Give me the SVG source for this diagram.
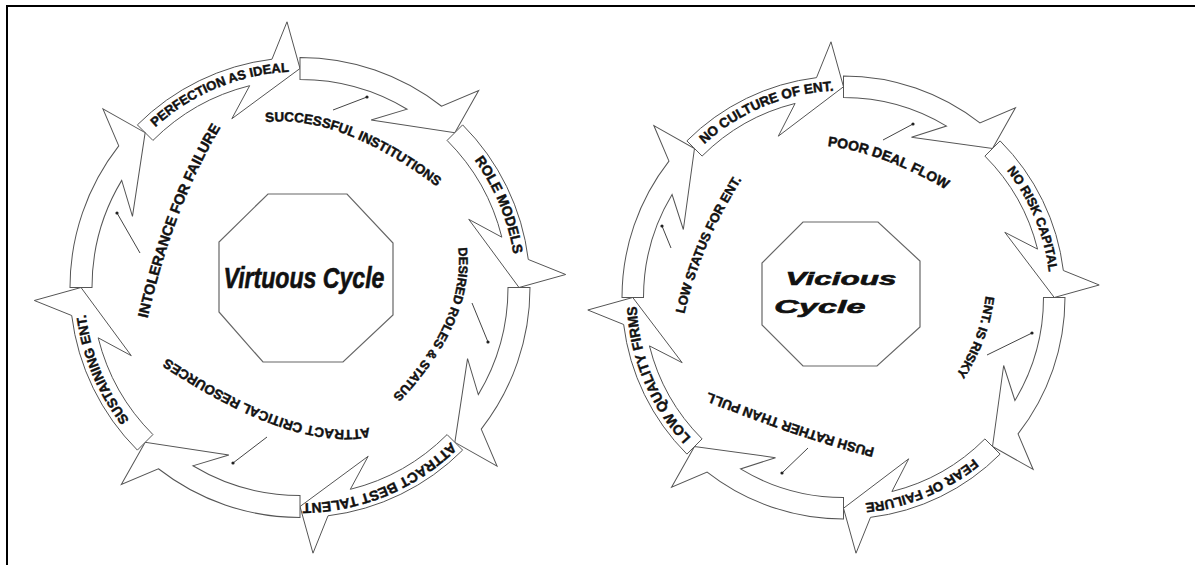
<svg xmlns="http://www.w3.org/2000/svg" width="1195" height="565" viewBox="0 0 1195 565">
<style>
.arr{fill:#fff;stroke:#555;stroke-width:1}
.oct{fill:#fff;stroke:#666;stroke-width:1.2}
.lbl{font-family:"Liberation Sans",Arial,sans-serif;font-weight:bold;fill:#111;stroke:#111;stroke-width:0.45}
.ctr{font-family:"Liberation Sans",Arial,sans-serif;font-weight:bold;font-style:italic;fill:#111;stroke:#111;stroke-width:0.6}
.lead{stroke:#444;stroke-width:1;fill:none}
.dot{fill:#222}
.frame{stroke:#000;stroke-width:2;fill:none}
</style>
<defs>
<path id="arrL" d="M162.63,-162.63 A230,230 0 0 1 228.29,-28.03 L265.68,-12.99 L219,0 L168.75,-68.18 L201.82,-50.32 A208,208 0 0 0 147.08,-147.08 Z"/>
<path id="arrR" d="M156.62,-156.62 A221.5,221.5 0 0 1 219.85,-26.99 L255.7,-12.51 L210.75,0 L161.33,-65.18 L194.06,-48.38 A200,200 0 0 0 141.42,-141.42 Z"/>
<path id="bandL" d="M-187.06,-108 A216,216 0 0 1 187.06,-108"/>
<path id="bandR" d="M-179.27,-103.5 A207,207 0 0 1 179.27,-103.5"/>
<path id="tL1" d="M246.5,124.4 L266.4,122.2 Q339.4,114.2 436.4,186.2 L452.5,198.1"/>
<path id="tL2" d="M455.3,225.4 L457.9,245.2 Q467.4,318.7 390.9,398.2 L377,412.6"/>
<path id="tL3" d="M389.1,423.8 L369.5,427.7 Q295,442.7 166.5,357.7 L149.8,346.7"/>
<path id="tL4" d="M142.6,339.1 L147.2,319.6 Q174.2,204.1 221.2,126.6 L231.6,109.5"/>
<path id="tR1" d="M808.5,143.8 L828.4,146.2 Q881.9,152.7 945.4,189.2 L962.7,199.2"/>
<path id="tR2" d="M988.2,275.5 L985.8,295.4 Q980.8,337.4 955.8,375.4 L944.8,392.1"/>
<path id="tR3" d="M892.8,452.6 L873.4,447.7 Q807.4,431.2 709.4,392.7 L690.8,385.4"/>
<path id="tR4" d="M679.5,334.3 L684.1,314.8 Q701.1,242.8 742.1,178.8 L752.9,162"/>
</defs>

<path class="frame" d="M7,565 V6 H1195"/>

<!-- Virtuous cycle -->
<g id="virtuous-center">
<polygon class="oct" points="268,194 347,194 393,243 393,315 343,362 263,362 219,312 219,242"/>
<text class="ctr" font-size="30" text-anchor="middle" transform="translate(304,288) scale(0.77,1)">Virtuous Cycle</text>
</g>
<g id="v-perfection">
<use href="#arrL" class="arr" transform="translate(300,287.5) rotate(-90)"/>
<text class="lbl" font-size="13" transform="translate(300,287.5) rotate(-22.5)"><textPath href="#bandL" startOffset="50%" text-anchor="middle">PERFECTION AS IDEAL</textPath></text>
</g>
<g id="v-arrow-institutions"><use href="#arrL" class="arr" transform="translate(300,287.5) rotate(-45)"/></g>
<g id="v-role-models">
<use href="#arrL" class="arr" transform="translate(300,287.5) rotate(0)"/>
<text class="lbl" font-size="14" transform="translate(300,287.5) rotate(67.5)"><textPath href="#bandL" startOffset="50%" text-anchor="middle">ROLE MODELS</textPath></text>
</g>
<g id="v-arrow-desired"><use href="#arrL" class="arr" transform="translate(300,287.5) rotate(45)"/></g>
<g id="v-best-talent">
<use href="#arrL" class="arr" transform="translate(300,287.5) rotate(90)"/>
<text class="lbl" font-size="14" transform="translate(300,287.5) rotate(157.5)"><textPath href="#bandL" startOffset="50%" text-anchor="middle">ATTRACT BEST TALENT</textPath></text>
</g>
<g id="v-arrow-resources"><use href="#arrL" class="arr" transform="translate(300,287.5) rotate(135)"/></g>
<g id="v-sustaining">
<use href="#arrL" class="arr" transform="translate(300,287.5) rotate(180)"/>
<text class="lbl" font-size="13.5" transform="translate(300,287.5) rotate(247.5)"><textPath href="#bandL" startOffset="50%" text-anchor="middle">SUSTAINING ENT.</textPath></text>
</g>
<g id="v-arrow-intolerance"><use href="#arrL" class="arr" transform="translate(300,287.5) rotate(225)"/></g>

<g id="v-lbl-institutions"><text class="lbl" font-size="13.4"><textPath href="#tL1" startOffset="50%" text-anchor="middle">SUCCESSFUL INSTITUTIONS</textPath></text></g>
<g id="v-lbl-desired"><text class="lbl" font-size="12.6"><textPath href="#tL2" startOffset="50%" text-anchor="middle">DESIRED ROLES &amp; STATUS</textPath></text></g>
<g id="v-lbl-resources"><text class="lbl" font-size="13.5"><textPath href="#tL3" startOffset="50%" text-anchor="middle">ATTRACT CRITICAL RESOURCES</textPath></text></g>
<g id="v-lbl-intolerance"><text class="lbl" font-size="14.5"><textPath href="#tL4" startOffset="50%" text-anchor="middle">INTOLERANCE FOR FAILURE</textPath></text></g>

<!-- Vicious cycle -->
<g id="vicious-center">
<polygon class="oct" points="803,222 878,222 920,261 920,327 877,366 803,366 762,325 762,263"/>
<text class="ctr" font-size="19" text-anchor="middle" fill="#222" transform="translate(841,285) scale(1.66,1)">Vicious</text>
<text class="ctr" font-size="19" text-anchor="middle" fill="#222" transform="translate(820,313) scale(1.8,1)">Cycle</text>
</g>
<g id="c-no-culture">
<use href="#arrR" class="arr" transform="translate(843.5,297.5) rotate(-90)"/>
<text class="lbl" font-size="13.5" transform="translate(843.5,297.5) rotate(-22.5)"><textPath href="#bandR" startOffset="50%" text-anchor="middle">NO CULTURE OF ENT.</textPath></text>
</g>
<g id="c-arrow-deal"><use href="#arrR" class="arr" transform="translate(843.5,297.5) rotate(-45)"/></g>
<g id="c-no-risk">
<use href="#arrR" class="arr" transform="translate(843.5,297.5) rotate(0)"/>
<text class="lbl" font-size="12.8" transform="translate(843.5,297.5) rotate(67.5)"><textPath href="#bandR" startOffset="50%" text-anchor="middle">NO RISK CAPITAL</textPath></text>
</g>
<g id="c-arrow-risky"><use href="#arrR" class="arr" transform="translate(843.5,297.5) rotate(45)"/></g>
<g id="c-fear">
<use href="#arrR" class="arr" transform="translate(843.5,297.5) rotate(90)"/>
<text class="lbl" font-size="13.3" transform="translate(843.5,297.5) rotate(157.5)"><textPath href="#bandR" startOffset="50%" text-anchor="middle">FEAR OF FAILURE</textPath></text>
</g>
<g id="c-arrow-push"><use href="#arrR" class="arr" transform="translate(843.5,297.5) rotate(135)"/></g>
<g id="c-low-quality">
<use href="#arrR" class="arr" transform="translate(843.5,297.5) rotate(180)"/>
<text class="lbl" font-size="14" transform="translate(843.5,297.5) rotate(247.5)"><textPath href="#bandR" startOffset="50%" text-anchor="middle">LOW QUALITY FIRMS</textPath></text>
</g>
<g id="c-arrow-status"><use href="#arrR" class="arr" transform="translate(843.5,297.5) rotate(225)"/></g>

<g id="c-lbl-deal"><text class="lbl" font-size="13.9"><textPath href="#tR1" startOffset="50%" text-anchor="middle">POOR DEAL FLOW</textPath></text></g>
<g id="c-lbl-risky"><text class="lbl" font-size="12.6"><textPath href="#tR2" startOffset="50%" text-anchor="middle">ENT. IS RISKY</textPath></text></g>
<g id="c-lbl-push"><text class="lbl" font-size="13.4"><textPath href="#tR3" startOffset="50%" text-anchor="middle">PUSH RATHER THAN PULL</textPath></text></g>
<g id="c-lbl-status"><text class="lbl" font-size="13"><textPath href="#tR4" startOffset="50%" text-anchor="middle">LOW STATUS FOR ENT.</textPath></text></g>

<g id="connectors">
<line class="lead" x1="333" y1="110" x2="367" y2="97"/><circle class="dot" cx="367" cy="97" r="1.6"/>
<line class="lead" x1="472" y1="303" x2="488" y2="342"/><circle class="dot" cx="488" cy="342" r="1.6"/>
<line class="lead" x1="267" y1="437" x2="233" y2="463"/><circle class="dot" cx="233" cy="463" r="1.6"/>
<line class="lead" x1="140" y1="253" x2="117" y2="213"/><circle class="dot" cx="117" cy="213" r="1.6"/>
<line class="lead" x1="883" y1="140" x2="913" y2="124"/><circle class="dot" cx="913" cy="124" r="1.6"/>
<line class="lead" x1="987" y1="355" x2="1032" y2="333"/><circle class="dot" cx="1032" cy="333" r="1.6"/>
<line class="lead" x1="808" y1="448" x2="782" y2="473"/><circle class="dot" cx="782" cy="473" r="1.6"/>
<line class="lead" x1="671" y1="248" x2="662" y2="226"/><circle class="dot" cx="662" cy="226" r="1.6"/>
</g>
</svg>
